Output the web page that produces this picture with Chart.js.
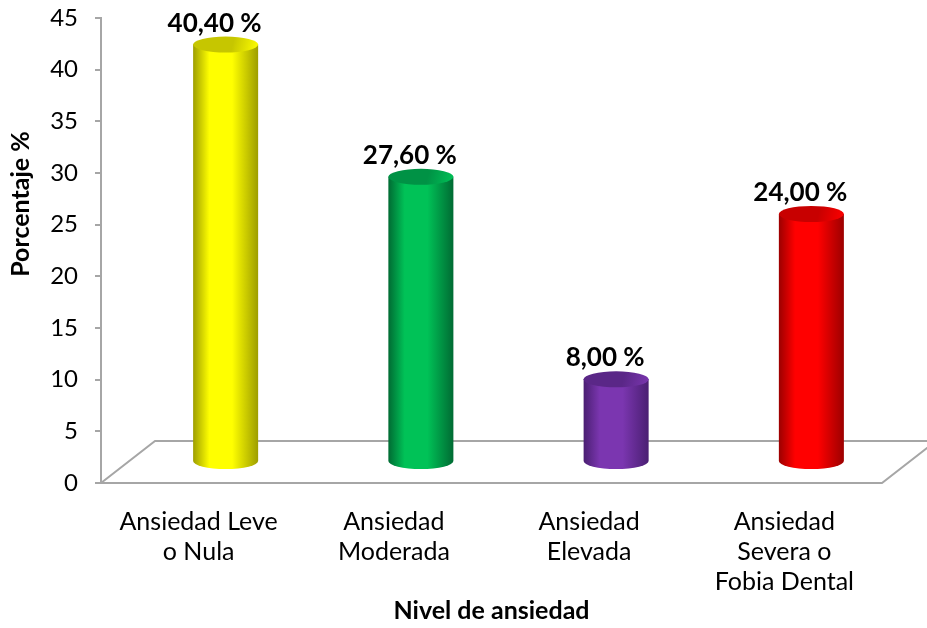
<!DOCTYPE html>
<html>
<head>
<meta charset="utf-8">
<script src="https://cdn.jsdelivr.net/npm/chart.js@4.4.0/dist/chart.umd.min.js"></script>
<style>
    body { margin: 0; background: #fff; }
    canvas { display: block; }
</style>
</head>
<body>
<canvas id="nivelChart" width="927" height="628"></canvas>
<script>
// Data
const categories = [
    ['Ansiedad Leve', 'o Nula'],
    ['Ansiedad', 'Moderada'],
    ['Ansiedad', 'Elevada'],
    ['Ansiedad', 'Severa o', 'Fobia Dental']
];
const percentages = [40.4, 27.6, 8.0, 24.0];
const yMin = 0;
const yMax = 45;
const yStep = 5;

// Cylinder colours (bright middle, dark edge, top cap)
const brightColors = ['#ffff00', '#00c257', '#7b36b0', '#ff0000'];
const edgeColors = ['#9e9e00', '#006b33', '#4a1f72', '#9c0000'];
const capColors = ['#c6c600', '#009245', '#5a2787', '#c80000'];

// 3D floor depth
const DX = 54;
const DY = 42;
const FONT = 'Lato, "Liberation Sans", sans-serif';

const floorPlugin = {
    id: 'floor3d',
    beforeDatasetsDraw(chart) {
        const { ctx, chartArea } = chart;
        const base = chart.scales.y.getPixelForValue(0);
        ctx.save();
        ctx.strokeStyle = '#a6a6a6';
        ctx.lineWidth = 2;
        ctx.beginPath();
        ctx.moveTo(chartArea.left, base);
        ctx.lineTo(chartArea.left + DX, base - DY);
        ctx.lineTo(chartArea.right + DX, base - DY);
        ctx.moveTo(chartArea.left, base);
        ctx.lineTo(chartArea.right, base);
        ctx.lineTo(chartArea.right + DX, base - DY);
        ctx.stroke();
        ctx.restore();
    }
};

const cylinderPlugin = {
    id: 'cylinders',
    afterDatasetsDraw(chart) {
        const ctx = chart.ctx;
        const meta = chart.getDatasetMeta(0);
        meta.data.forEach((bar, i) => {
            const { x, y, base, width } = bar.getProps(['x', 'y', 'base', 'width'], true);
            const cx = x + DX / 2;
            const top = y - DY / 2;
            const bottom = base - DY / 2;
            const rx = width / 2;
            const ry = 8;
            const left = cx - rx;
            const right = cx + rx;

            ctx.save();
            const body = ctx.createLinearGradient(left, 0, right, 0);
            body.addColorStop(0, edgeColors[i]);
            body.addColorStop(0.25, brightColors[i]);
            body.addColorStop(0.6, brightColors[i]);
            body.addColorStop(1, edgeColors[i]);
            ctx.fillStyle = body;
            ctx.beginPath();
            ctx.moveTo(left, top);
            ctx.lineTo(left, bottom);
            ctx.ellipse(cx, bottom, rx, ry, 0, Math.PI, 0, true);
            ctx.lineTo(right, top);
            ctx.closePath();
            ctx.fill();

            const cap = ctx.createLinearGradient(left, top - ry, right, top + ry);
            cap.addColorStop(0, capColors[i]);
            cap.addColorStop(0.6, capColors[i]);
            cap.addColorStop(1, brightColors[i]);
            ctx.fillStyle = cap;
            ctx.beginPath();
            ctx.ellipse(cx, top, rx, ry, 0, 0, Math.PI * 2);
            ctx.fill();

            // value label
            ctx.fillStyle = '#000';
            ctx.font = 'bold 26px ' + FONT;
            ctx.textAlign = 'center';
            ctx.textBaseline = 'alphabetic';
            const label = percentages[i].toFixed(2).replace('.', ',') + ' %';
            ctx.fillText(label, cx - 11, top - ry - 5);
            ctx.restore();
        });
    }
};

const yTitlePlugin = {
    id: 'yTitle',
    afterDraw(chart) {
        const ctx = chart.ctx;
        ctx.save();
        ctx.translate(21, 204);
        ctx.rotate(-Math.PI / 2);
        ctx.fillStyle = '#000';
        ctx.font = 'bold 25px ' + FONT;
        ctx.textAlign = 'center';
        ctx.textBaseline = 'middle';
        ctx.fillText('Porcentaje %', 0, 0);
        ctx.restore();
    }
};

const ctx = document.getElementById('nivelChart').getContext('2d');
new Chart(ctx, {
    type: 'bar',
    data: {
        labels: categories,
        datasets: [{
            data: percentages,
            backgroundColor: 'rgba(0,0,0,0)',
            categoryPercentage: 1,
            barPercentage: 0.333
        }]
    },
    options: {
        responsive: false,
        animation: false,
        layout: { padding: { top: 18, right: 45, left: 0, bottom: 0 } },
        plugins: {
            legend: { display: false },
            tooltip: { enabled: false }
        },
        scales: {
            x: {
                grid: { display: false, drawTicks: false },
                border: { display: false },
                ticks: {
                    color: '#000',
                    font: { family: FONT, size: 25, lineHeight: 1.2 },
                    padding: 24,
                    maxRotation: 0,
                    autoSkip: false
                },
                title: {
                    display: true,
                    text: 'Nivel de ansiedad',
                    color: '#000',
                    font: { family: FONT, size: 25, weight: 'bold' },
                    padding: { top: 0, bottom: 2 }
                },
                afterFit(scale) { scale.height = 145; }
            },
            y: {
                min: yMin,
                max: yMax,
                ticks: {
                    stepSize: yStep,
                    color: '#000',
                    font: { family: FONT, size: 24 },
                    padding: 17
                },
                grid: {
                    drawOnChartArea: false,
                    tickLength: 6,
                    color: '#a6a6a6',
                    lineWidth: 2
                },
                border: { display: true, color: '#a6a6a6', width: 2 },
                afterFit(scale) {
                    scale.width = 101;
                    scale.paddingTop = 0;
                }
            }
        }
    },
    plugins: [floorPlugin, cylinderPlugin, yTitlePlugin]
});
</script>
</body>
</html>
